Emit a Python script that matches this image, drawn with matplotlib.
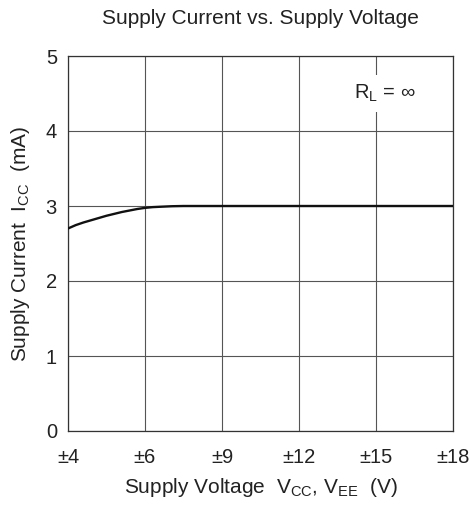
import matplotlib
matplotlib.use("Agg")
import matplotlib.pyplot as plt

plt.rcParams['font.family'] = ['Liberation Sans', 'DejaVu Sans']

tick_labels = ['±4', '±6', '±9', '±12', '±15', '±18']
tick_pos = [0, 1, 2, 3, 4, 5]

# curve points (x in tick-index units, y in mA)
curve_x = [0, 0.1, 0.2, 0.3, 0.4, 0.5, 0.6, 0.7, 0.8, 0.9, 1.0, 1.1, 1.2, 1.35, 1.5, 1.7, 2.0, 3.0, 4.0, 5.0]
curve_y = [2.70, 2.745, 2.78, 2.81, 2.84, 2.87, 2.895, 2.92, 2.94, 2.96, 2.975, 2.985, 2.99, 2.997, 3.0, 3.0, 3.0, 3.0, 3.0, 3.0]

fig = plt.figure(figsize=(4.73, 5.08), dpi=100)
ax = fig.add_axes([68/473, 1 - 431/508, 385/473, 375/508])

ax.plot(curve_x, curve_y, color='#111111', lw=1.7, zorder=3)

ax.set_xlim(0, 5)
ax.set_ylim(0, 5)
ax.set_xticks(tick_pos)
ax.set_xticklabels(tick_labels)
ax.set_yticks([0, 1, 2, 3, 4, 5])
ax.tick_params(length=0, labelsize=14.5, colors='#222222')
ax.tick_params(axis='x', pad=12)
ax.tick_params(axis='y', pad=8)
ax.grid(True, color='#555555', lw=0.8)
for s in ax.spines.values():
    s.set_color('#333333')
    s.set_linewidth(0.9)

ax.text(4.11, 4.5, r'R$_\mathregular{L}$ = ∞', fontsize=14.5, ha='center', va='center',
        color='#222222', bbox=dict(facecolor='white', edgecolor='none', pad=6), zorder=4)

ax.set_title('Supply Current vs. Supply Voltage', fontsize=15, pad=23, color='#222222')
ax.set_xlabel(r'Supply Voltage  V$_\mathregular{CC}$, V$_\mathregular{EE}$  (V)', fontsize=15,
              labelpad=7, color='#222222')
ax.set_ylabel(r'Supply Current  I$_\mathregular{CC}$  (mA)', fontsize=15,
              labelpad=10, color='#222222')

fig.savefig('out.png', dpi=100)
